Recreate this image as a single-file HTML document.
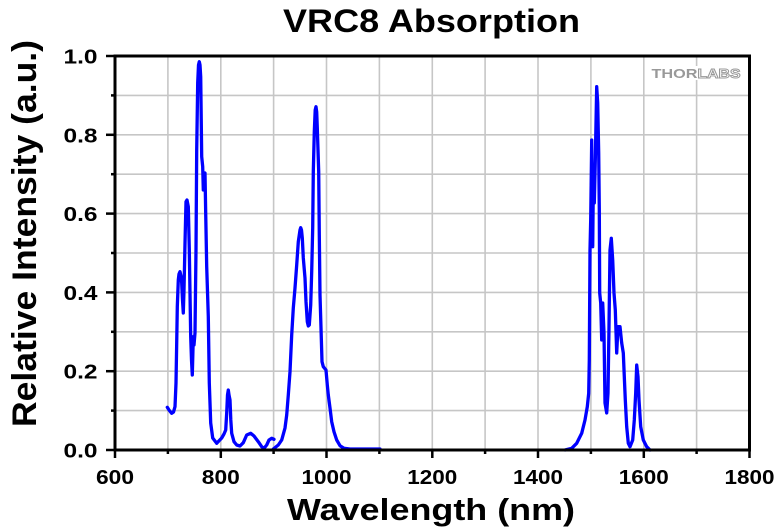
<!DOCTYPE html>
<html><head><meta charset="utf-8"><style>
html,body{margin:0;padding:0;background:#fff;}
svg{display:block;}
text{font-family:"Liberation Sans",Arial,sans-serif;font-weight:bold;fill:#000;}
</style></head><body>
<svg width="780" height="532" viewBox="0 0 780 532" xmlns="http://www.w3.org/2000/svg">
<rect width="780" height="532" fill="#fff"/>
<!-- grid -->
<g stroke="#c6c6c6" stroke-width="1.6">
<line x1="167.9" y1="56" x2="167.9" y2="450"/>
<line x1="220.8" y1="56" x2="220.8" y2="450"/>
<line x1="273.6" y1="56" x2="273.6" y2="450"/>
<line x1="326.5" y1="56" x2="326.5" y2="450"/>
<line x1="379.4" y1="56" x2="379.4" y2="450"/>
<line x1="432.3" y1="56" x2="432.3" y2="450"/>
<line x1="485.1" y1="56" x2="485.1" y2="450"/>
<line x1="538" y1="56" x2="538" y2="450"/>
<line x1="590.9" y1="56" x2="590.9" y2="450"/>
<line x1="643.8" y1="56" x2="643.8" y2="450"/>
<line x1="696.6" y1="56" x2="696.6" y2="450"/>
<line x1="115" y1="410.6" x2="749.5" y2="410.6"/>
<line x1="115" y1="371.2" x2="749.5" y2="371.2"/>
<line x1="115" y1="331.8" x2="749.5" y2="331.8"/>
<line x1="115" y1="292.4" x2="749.5" y2="292.4"/>
<line x1="115" y1="253" x2="749.5" y2="253"/>
<line x1="115" y1="213.6" x2="749.5" y2="213.6"/>
<line x1="115" y1="174.2" x2="749.5" y2="174.2"/>
<line x1="115" y1="134.8" x2="749.5" y2="134.8"/>
<line x1="115" y1="95.4" x2="749.5" y2="95.4"/>
</g>
<!-- logo -->
<rect x="650" y="66" width="92" height="14" fill="#fff"/>
<text x="651.5" y="78" font-size="12.5" textLength="46" lengthAdjust="spacingAndGlyphs" style="fill:#999">THOR</text>
<text x="697.5" y="78" font-size="12.5" textLength="43" lengthAdjust="spacingAndGlyphs" style="fill:#fff;stroke:#999;stroke-width:0.9">LABS</text>
<!-- data -->
<g fill="none" stroke="#0000ff" stroke-width="3.3" stroke-linejoin="round" stroke-linecap="round">
<polyline points="167.3,407.3 169,410 171.7,413.3 173.5,412 175,406.7 175.5,395 176,383 176.7,343 177.3,306.7 178.3,280 179,274 180,271.7 181,276 181.7,283 182.5,300 183.3,313 184,290 185,243 186,201.7 187,200 188.3,206.7 189.3,250 190.7,336.7 191.5,360 192.3,375 193.3,336.7 194,345 195,333 196,250 196.7,150 197.7,83 198.5,65 199.3,61.7 200,65 200.7,76.7 201.7,156.7 202.7,166.7 203.3,190 204,175 205,173 205.7,213 206.7,266.7 208.3,316.7 209.3,383 210.7,423 212.7,438 216.7,443.3 221.7,438 224,434 225.7,430 226.7,413 227.5,395 228.3,390 229,395 230,400 230.8,420 231.7,433.3 234,441.7 236.7,445 240,446 243.3,442.7 246.7,435 250.7,433.3 254,436 258.3,441.7 261.7,446.7 264,448.3 266.7,445 269,440 271.7,438.3 274,439.3"/>
<polyline points="273.3,449 278.3,445 281.7,440 285,428 286.7,415 288.3,395 290,371.7 291.7,335 293.3,308 295,288 296.7,265 298.3,241.7 300,230 300.7,227.7 301.5,230 302.3,238 303.3,258 305,278 306,301.7 307.3,321.7 308.3,326 309.3,325 310.7,305 311.7,271.7 312.7,228 313.3,171.7 314.3,131.7 315.2,110 316,106.7 316.7,112 317.3,128 318.7,171.7 319.3,235 320,295 321,328 322,361.7 323.3,366.7 326,370 327.3,385 328.3,395 330,408 331.7,421.7 334,431.7 336.7,440 340,445.7 344,448.3 350,449 380,449"/>
<polyline points="565,450 571.7,448.3 576.7,443.3 581.7,433.3 585,420 587.3,406.7 588.7,393.3 589.3,360 590,250 590.7,220 591.7,140 592.7,246.7 593.3,186.7 594.3,203 595.3,160 596.7,86.7 597.7,103 598.7,153 599.3,210 599.7,293 600.7,303 601.7,340 602.7,303 604,333 605,403 606.7,413 608,393 609,326.7 610,250 611.3,238.3 612.7,260 614,293 615.3,310 616.7,353 618,326.7 620,326.7 621.7,343 623.3,353 624.3,376.7 625.3,400 626.7,426.7 628.3,443.3 630,446.7 632.7,440 634.3,420 635.7,393 636.7,365 638,376.7 639,400 640.7,426.7 643.3,440 646.7,446.7 650,450"/>
</g>
<!-- frame -->
<rect x="115" y="56" width="634.5" height="394" fill="none" stroke="#000" stroke-width="3"/>
<!-- ticks -->
<g stroke="#000" stroke-width="2.5">
<line x1="115" y1="450" x2="115" y2="458"/>
<line x1="220.8" y1="450" x2="220.8" y2="458"/>
<line x1="326.5" y1="450" x2="326.5" y2="458"/>
<line x1="432.3" y1="450" x2="432.3" y2="458"/>
<line x1="538" y1="450" x2="538" y2="458"/>
<line x1="643.8" y1="450" x2="643.8" y2="458"/>
<line x1="749.5" y1="450" x2="749.5" y2="458"/>
<line x1="167.9" y1="450" x2="167.9" y2="454"/>
<line x1="273.6" y1="450" x2="273.6" y2="454"/>
<line x1="379.4" y1="450" x2="379.4" y2="454"/>
<line x1="485.1" y1="450" x2="485.1" y2="454"/>
<line x1="590.9" y1="450" x2="590.9" y2="454"/>
<line x1="696.6" y1="450" x2="696.6" y2="454"/>
<line x1="106" y1="450" x2="115" y2="450"/>
<line x1="106" y1="371.2" x2="115" y2="371.2"/>
<line x1="106" y1="292.4" x2="115" y2="292.4"/>
<line x1="106" y1="213.6" x2="115" y2="213.6"/>
<line x1="106" y1="134.8" x2="115" y2="134.8"/>
<line x1="106" y1="56" x2="115" y2="56"/>
<line x1="111" y1="410.6" x2="115" y2="410.6"/>
<line x1="111" y1="331.8" x2="115" y2="331.8"/>
<line x1="111" y1="253" x2="115" y2="253"/>
<line x1="111" y1="174.2" x2="115" y2="174.2"/>
<line x1="111" y1="95.4" x2="115" y2="95.4"/>
</g>
<!-- x tick labels -->
<g font-size="20" text-anchor="middle">
<text x="115" y="484" textLength="38" lengthAdjust="spacingAndGlyphs">600</text>
<text x="220.8" y="484" textLength="38" lengthAdjust="spacingAndGlyphs">800</text>
<text x="326.5" y="484" textLength="50" lengthAdjust="spacingAndGlyphs">1000</text>
<text x="432.3" y="484" textLength="50" lengthAdjust="spacingAndGlyphs">1200</text>
<text x="538" y="484" textLength="50" lengthAdjust="spacingAndGlyphs">1400</text>
<text x="643.8" y="484" textLength="50" lengthAdjust="spacingAndGlyphs">1600</text>
<text x="749.5" y="484" textLength="50" lengthAdjust="spacingAndGlyphs">1800</text>
</g>
<!-- y tick labels -->
<g font-size="20" text-anchor="end">
<text x="97.5" y="457.5" textLength="34" lengthAdjust="spacingAndGlyphs">0.0</text>
<text x="97.5" y="378.7" textLength="34" lengthAdjust="spacingAndGlyphs">0.2</text>
<text x="97.5" y="299.9" textLength="34" lengthAdjust="spacingAndGlyphs">0.4</text>
<text x="97.5" y="221.1" textLength="34" lengthAdjust="spacingAndGlyphs">0.6</text>
<text x="97.5" y="142.3" textLength="34" lengthAdjust="spacingAndGlyphs">0.8</text>
<text x="97.5" y="63.5" textLength="34" lengthAdjust="spacingAndGlyphs">1.0</text>
</g>
<!-- titles -->
<text x="431.5" y="32" font-size="32" text-anchor="middle" textLength="297" lengthAdjust="spacingAndGlyphs">VRC8 Absorption</text>
<text x="431" y="520" font-size="31" text-anchor="middle" textLength="288" lengthAdjust="spacingAndGlyphs">Wavelength (nm)</text>
<text transform="translate(36,233.5) rotate(-90)" x="0" y="0" font-size="34" text-anchor="middle" textLength="387" lengthAdjust="spacingAndGlyphs">Relative Intensity (a.u.)</text>
</svg>
</body></html>
